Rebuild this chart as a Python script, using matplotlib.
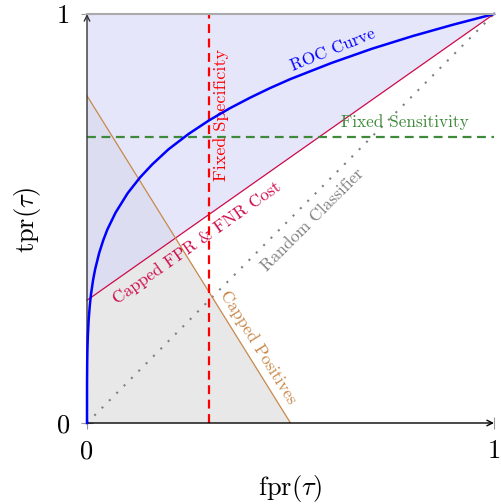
import numpy as np
import matplotlib
matplotlib.use('Agg')
import matplotlib.pyplot as plt

plt.rcParams['font.family'] = 'serif'
plt.rcParams['font.serif'] = ['cmr10', 'DejaVu Serif']
plt.rcParams['mathtext.fontset'] = 'cm'
plt.rcParams['axes.unicode_minus'] = False

# ROC curve
roc_fpr = [0, 0.0001, 0.0005, 0.001, 0.002, 0.004, 0.007, 0.01, 0.015, 0.02, 0.03,
           0.04, 0.05, 0.07, 0.1, 0.13, 0.16, 0.2, 0.25, 0.3, 0.35, 0.4, 0.45,
           0.5, 0.6, 0.7, 0.8, 0.9, 1.0]
roc_tpr = [0, 0.1, 0.15, 0.178, 0.211, 0.251, 0.289, 0.316, 0.35, 0.376, 0.416,
           0.447, 0.473, 0.514, 0.562, 0.6, 0.632, 0.669, 0.707, 0.74, 0.769, 0.795,
           0.819, 0.841, 0.88, 0.915, 0.946, 0.974, 1.0]

# constraint lines
cost_fpr = [0, 1]
cost_tpr = [0.3, 1]
pos_fpr = [0, 0.5]
pos_tpr = [0.8, 0]
random_fpr = [0, 1]
random_tpr = [0, 1]
fixed_spec = 0.3
fixed_sens = 0.7

c_cost = '#cc0a4a'
c_pos = '#c8884a'
c_green = '#3f8a3a'

fig = plt.figure(figsize=(5.02, 5.04), dpi=100)
ax = fig.add_axes([87 / 502, 81 / 504, 407 / 502, 409 / 504])

# shaded regions
ax.fill([0, pos_fpr[1], 0], [0, 0, pos_tpr[0]], color='#e8e8e8', lw=0, zorder=0)
ax.fill([0, 1, 0], [cost_tpr[0], 1, 1], color='#d6d6f8', alpha=0.6, lw=0, zorder=1)

ax.plot(random_fpr, random_tpr, color='#808080', ls=(0, (1, 4)), lw=1.5, zorder=2)
ax.plot(cost_fpr, cost_tpr, color=c_cost, lw=0.9, zorder=3, clip_on=False)
ax.plot(pos_fpr, pos_tpr, color=c_pos, lw=0.9, zorder=3)
ax.axvline(fixed_spec, color='red', ls=(0, (4, 2.5)), lw=1.6, zorder=3)
ax.axhline(fixed_sens, color=c_green, ls=(0, (4, 2.5)), lw=1.6, zorder=3)
ax.plot(roc_fpr, roc_tpr, color='blue', lw=1.8, zorder=4, clip_on=False)

# labels on the lines
fs = 12.4
ax.text(0.604, 0.912, 'ROC Curve', color='blue', rotation=22, fontsize=fs,
        ha='center', va='center', rotation_mode='anchor')
ax.text(0.33, 0.753, 'Fixed Specificity', color='red', rotation=90, fontsize=13,
        ha='center', va='center', rotation_mode='anchor')
ax.text(0.781, 0.735, 'Fixed Sensitivity', color=c_green, fontsize=fs,
        ha='center', va='center')
ax.text(0.27, 0.44, 'Capped FPR & FNR Cost', color=c_cost, rotation=35, fontsize=fs,
        ha='center', va='center', rotation_mode='anchor')
ax.text(0.555, 0.496, 'Random Classifier', color='#808080', rotation=45, fontsize=fs,
        ha='center', va='center', rotation_mode='anchor')
ax.text(0.42, 0.186, 'Capped Positives', color=c_pos, rotation=-58, fontsize=fs,
        ha='center', va='center', rotation_mode='anchor')

ax.set_xlim(0, 1)
ax.set_ylim(0, 1)
for s in ax.spines.values():
    s.set_visible(False)
ax.plot([0, 1], [1, 1], color='#aaaaaa', lw=1.5, zorder=5, clip_on=False)
ax.annotate('', xy=(0, 1.0), xytext=(0, 0),
            arrowprops=dict(arrowstyle='->', lw=1.0, color='#333333', shrinkA=0, shrinkB=0))
ax.annotate('', xy=(1.0, 0), xytext=(0, 0),
            arrowprops=dict(arrowstyle='->', lw=1.0, color='black', shrinkA=0, shrinkB=0))

ax.set_xticks([0, 1])
ax.set_yticks([0, 1])
ax.tick_params(direction='inout', length=8, width=0.8, color='#999999', labelsize=19, pad=8)
ax.set_xlabel(r'fpr$(\tau)$', fontsize=19, va='center')
ax.set_ylabel(r'tpr$(\tau)$', fontsize=19, va='center')
ax.xaxis.set_label_coords(0.5, -0.159)
ax.yaxis.set_label_coords(-0.145, 0.496)

plt.savefig('out.png', dpi=100)
plt.close()
